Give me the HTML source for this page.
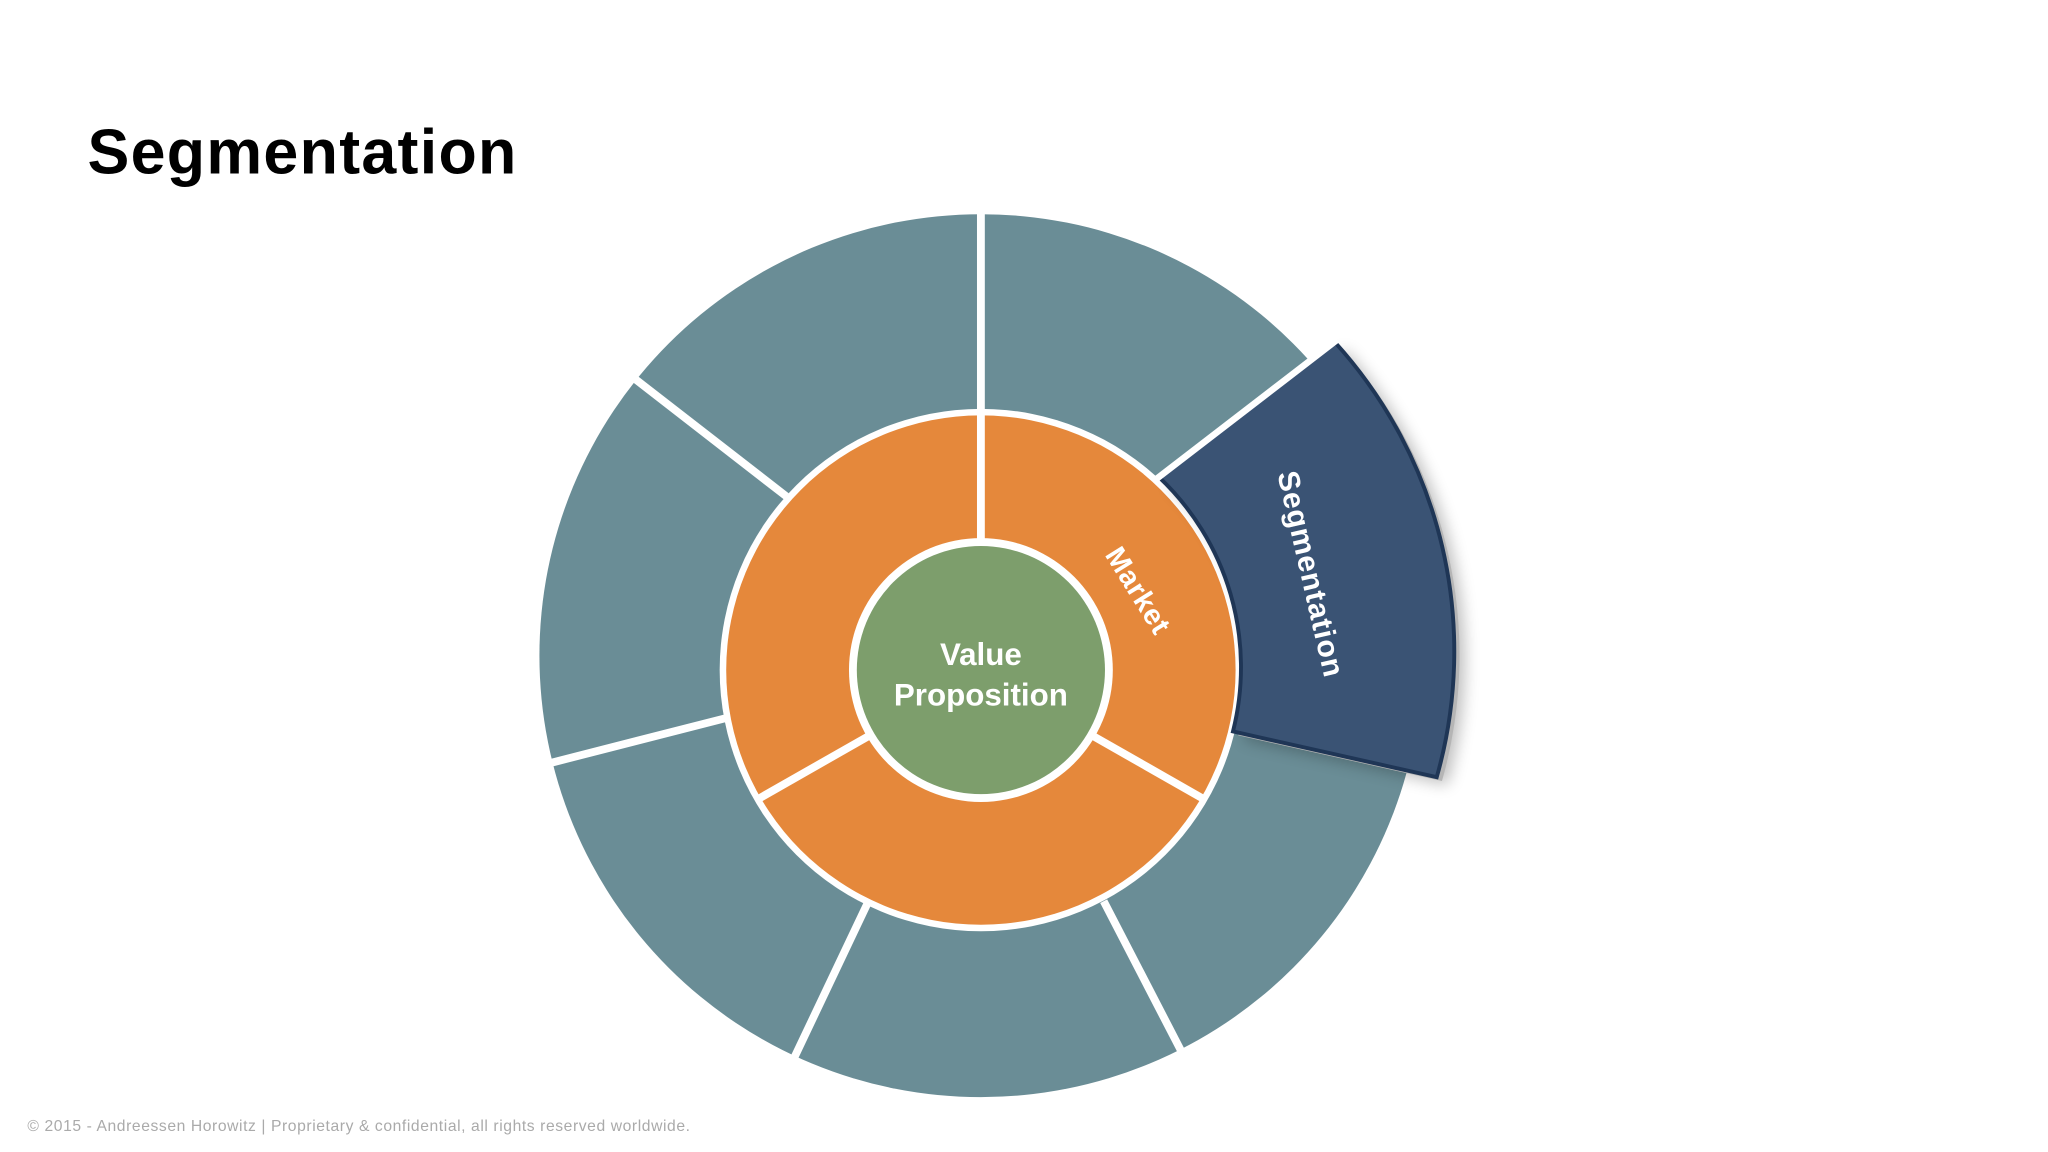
<!DOCTYPE html>
<html><head><meta charset="utf-8"><style>
html,body{margin:0;padding:0;background:#fff;}
svg{display:block;}
</style></head><body>
<svg width="2048" height="1152" viewBox="0 0 1568 882" preserveAspectRatio="none" xmlns="http://www.w3.org/2000/svg">
<defs><filter id="b" x="-20%" y="-20%" width="140%" height="140%"><feGaussianBlur stdDeviation="6"/></filter></defs>
<rect width="1568" height="882" fill="#fff"/>
<text x="67" y="133" font-family="Liberation Sans, sans-serif" font-weight="bold" font-size="48" letter-spacing="1" fill="#000">Segmentation</text>
<circle cx="751" cy="502" r="338" fill="#6a8d96"/>
<g stroke="#fff" stroke-width="6" stroke-linecap="butt">
<line x1="751" y1="316" x2="751" y2="160"/>
<line x1="602" y1="380" x2="486" y2="290"/>
<line x1="555" y1="550" x2="422" y2="584"/>
<line x1="664" y1="692" x2="608" y2="810"/>
<line x1="845" y1="690" x2="904" y2="804"/>
</g>
<circle cx="751" cy="513" r="200" fill="#fff"/>
<circle cx="751" cy="513" r="195" fill="#e5883b"/>
<g stroke="#fff" stroke-width="6">
<line x1="751" y1="415" x2="751" y2="315"/>
<line x1="666" y1="563" x2="580" y2="612"/>
<line x1="836" y1="563" x2="922" y2="612"/>
</g>
<circle cx="751" cy="513" r="101" fill="#fff"/>
<circle cx="751" cy="513" r="95" fill="#7d9e6c"/>
<path d="M 887 365 L 1022 262 A 352 352 0 0 1 1100 595 L 944 560 A 200 200 0 0 0 887 365 Z" fill="#000" opacity="0.25" transform="translate(8,6)" filter="url(#b)"/>
<path d="M 887 365 L 1022 262 A 352 352 0 0 1 1100 595 L 944 560 A 200 200 0 0 0 887 365 Z" fill="#b5b5b5" transform="translate(4,3)"/>
<path d="M 887 365 L 1022 262 A 352 352 0 0 1 1100 595 L 944 560 A 200 200 0 0 0 887 365 Z" fill="#3a5374" stroke="#1f3656" stroke-width="3"/>
<line x1="885" y1="367" x2="1024" y2="260" stroke="#fff" stroke-width="5"/>
<text x="751" y="509" text-anchor="middle" font-family="Liberation Sans, sans-serif" font-weight="bold" font-size="24" fill="#fff">Value</text>
<text x="751" y="540" text-anchor="middle" font-family="Liberation Sans, sans-serif" font-weight="bold" font-size="24" fill="#fff">Proposition</text>
<text transform="translate(870,453) rotate(58)" text-anchor="middle" dominant-baseline="middle" font-family="Liberation Sans, sans-serif" font-weight="bold" font-size="22" letter-spacing="0.5" fill="#fff">Market</text>
<text transform="translate(1002,440) rotate(77)" text-anchor="middle" dominant-baseline="middle" font-family="Liberation Sans, sans-serif" font-weight="bold" font-size="23" letter-spacing="0.8" fill="#fff">Segmentation</text>
<text x="21" y="866" font-family="Liberation Sans, sans-serif" font-size="12" letter-spacing="0.45" fill="#aaa">© 2015 - Andreessen Horowitz | Proprietary &amp; confidential, all rights reserved worldwide.</text>
</svg>
</body></html>
